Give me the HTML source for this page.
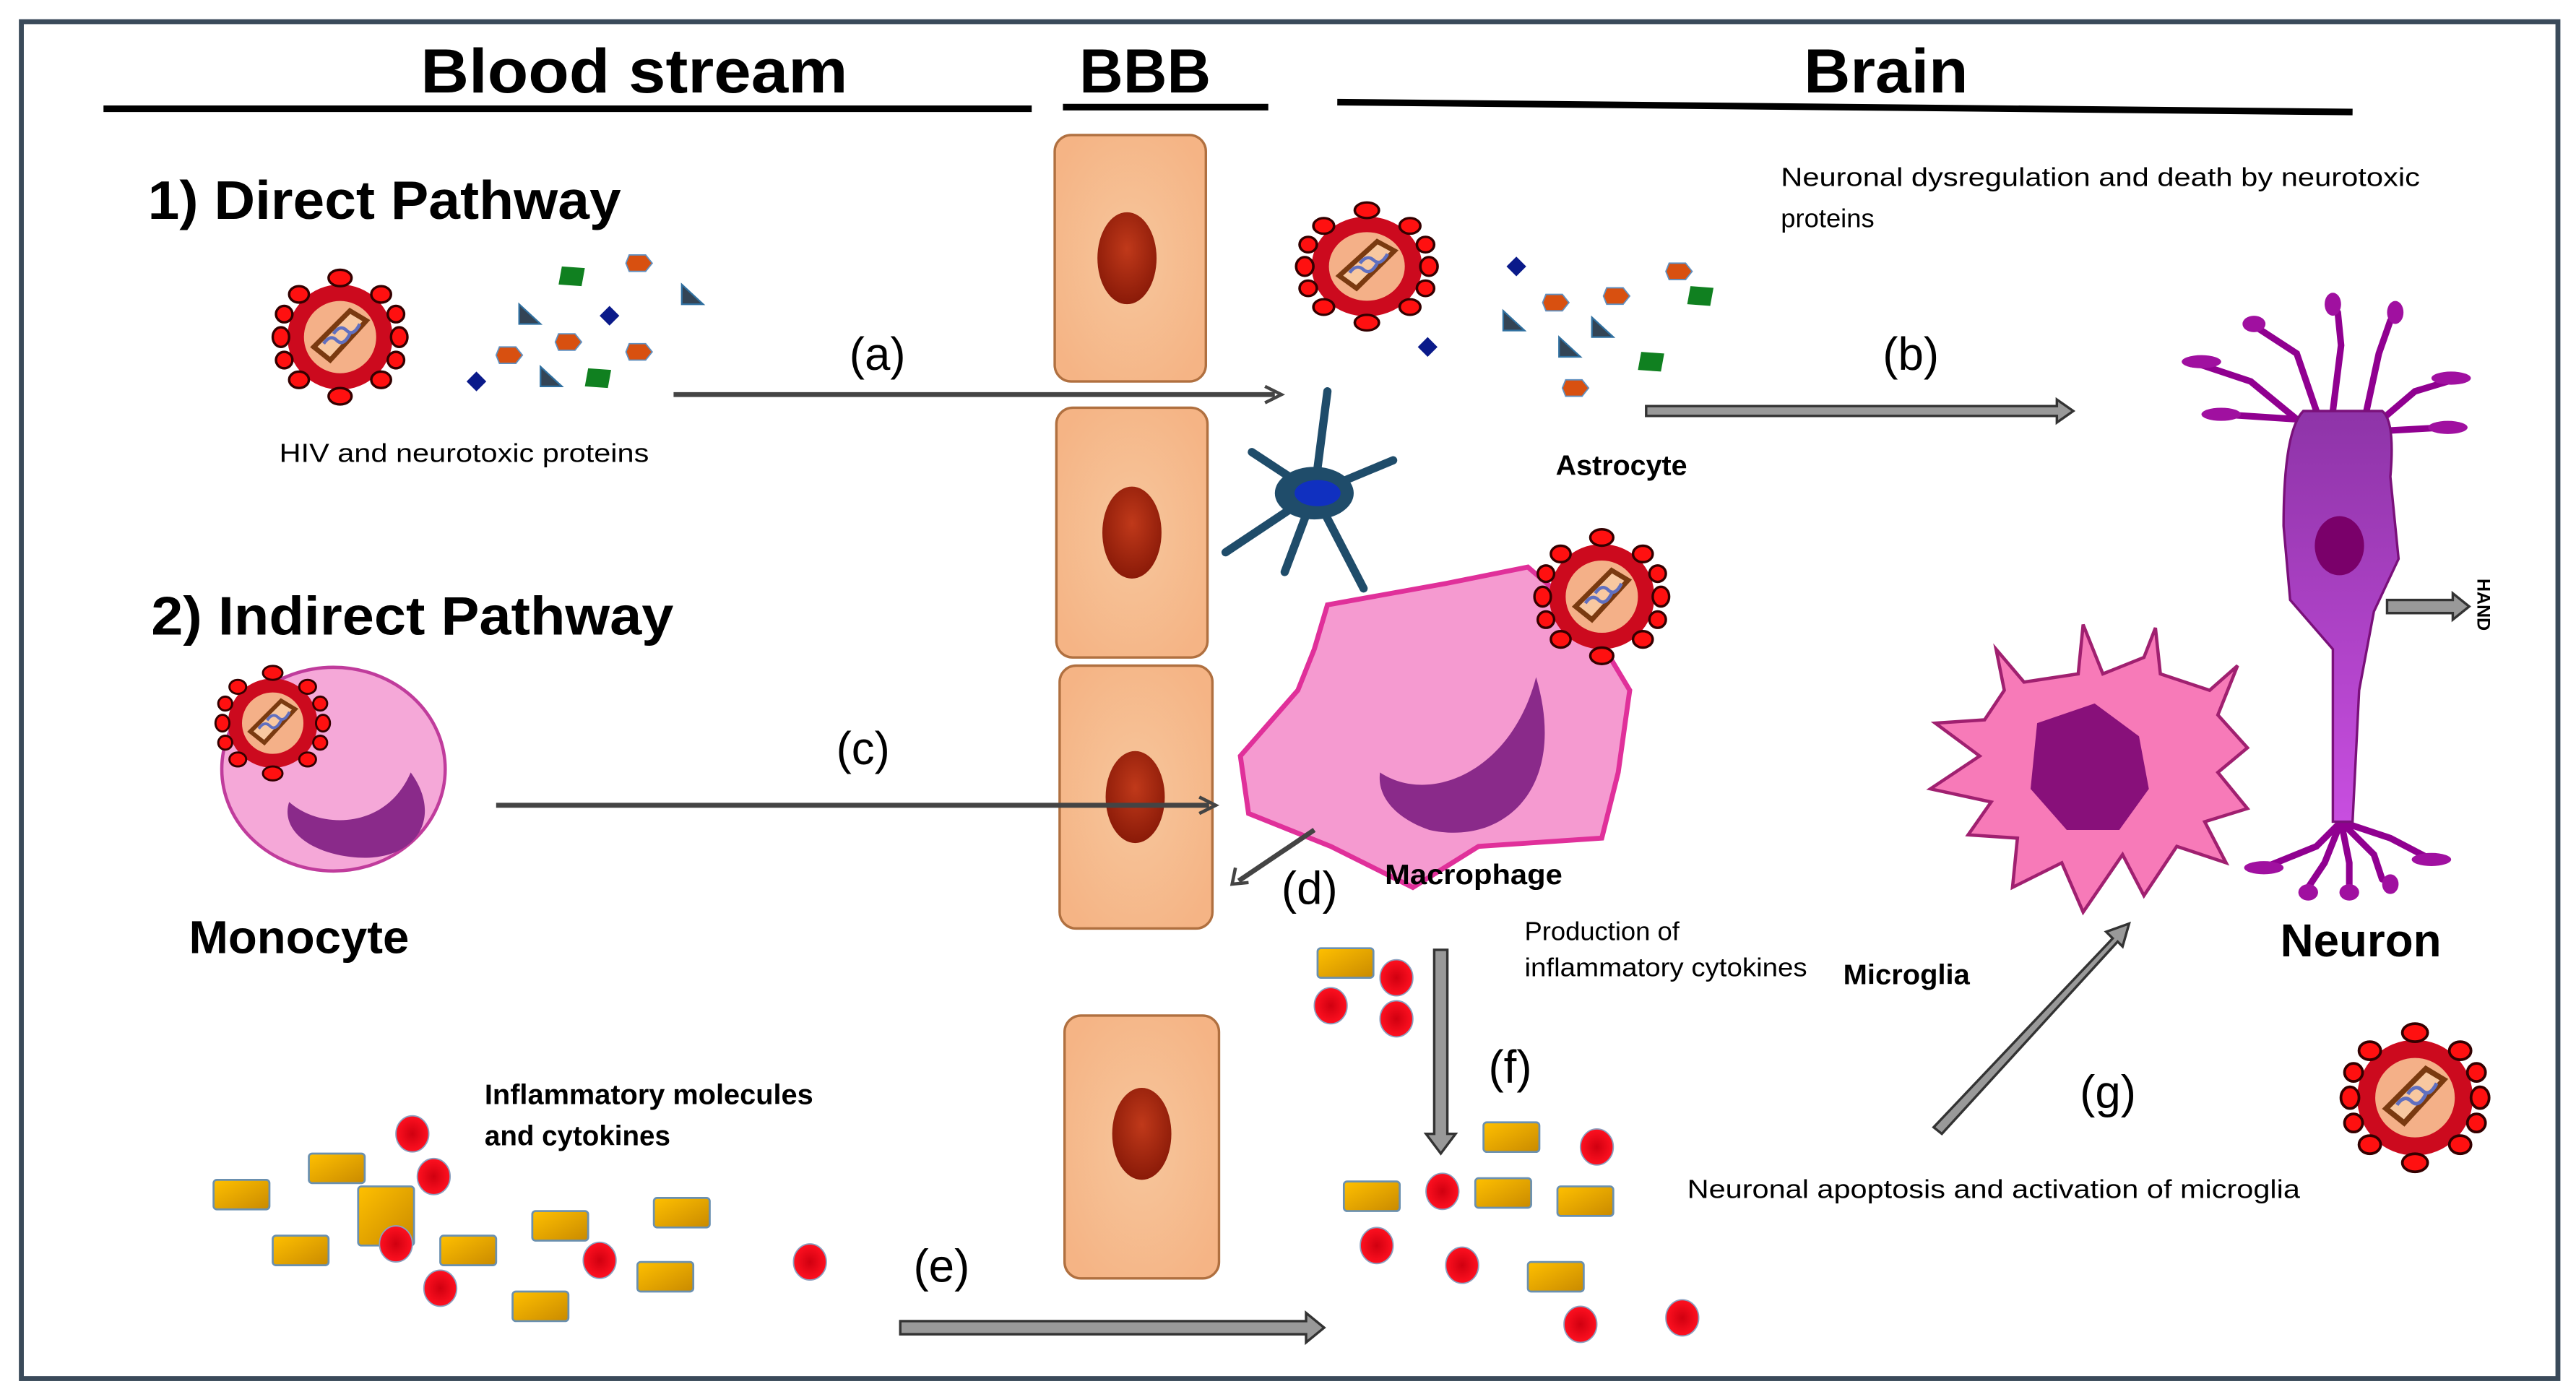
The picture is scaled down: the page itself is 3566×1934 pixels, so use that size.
<!DOCTYPE html>
<html><head><meta charset="utf-8"><style>
html,body{margin:0;padding:0;background:#fff}
svg{display:block}
text{font-family:"Liberation Sans",sans-serif}
</style></head><body>
<svg width="3566" height="1934" viewBox="0 0 1568 850" xmlns="http://www.w3.org/2000/svg">
<defs>
<radialGradient id="cellg" cx="50%" cy="50%" r="60%"><stop offset="0" stop-color="#f6c69c"/><stop offset="1" stop-color="#f5b485"/></radialGradient>
<radialGradient id="nucg" cx="50%" cy="40%" r="60%"><stop offset="0" stop-color="#c0391a"/><stop offset="1" stop-color="#8a1a08"/></radialGradient>
<linearGradient id="yel" x1="0" y1="0" x2="1" y2="1"><stop offset="0" stop-color="#ffc000"/><stop offset="1" stop-color="#c98a00"/></linearGradient>
<radialGradient id="redg"><stop offset="0" stop-color="#d00010"/><stop offset="1" stop-color="#ff1020"/></radialGradient>
<linearGradient id="neug" x1="0" y1="0" x2="0" y2="1"><stop offset="0" stop-color="#8e34a8"/><stop offset="1" stop-color="#c84ee0"/></linearGradient>
<g id="virus">
  <circle r="32" fill="#cc0a1e"/>
  <circle r="22" fill="#f4b088"/>
  <path d="M-16,6 L6,-16 L16,-10 L-6,14 Z" fill="#f8c8a0" stroke="#7a3a10" stroke-width="3"/>
  <path d="M-10,4 q4,-6 8,-2 t8,-4 M-4,-2 q4,-6 8,-2 t8,-4" fill="none" stroke="#6070c0" stroke-width="2"/>
  <g fill="#ff1010" stroke="#300" stroke-width="1.5">
    <ellipse cx="0" cy="-36" rx="7" ry="5"/><ellipse cx="0" cy="36" rx="7" ry="5"/>
    <ellipse cx="-36" cy="0" rx="5" ry="6"/><ellipse cx="36" cy="0" rx="5" ry="6"/>
    <ellipse cx="-25" cy="-26" rx="6" ry="5"/><ellipse cx="25" cy="-26" rx="6" ry="5"/>
    <ellipse cx="-25" cy="26" rx="6" ry="5"/><ellipse cx="25" cy="26" rx="6" ry="5"/>
    <ellipse cx="-34" cy="-14" rx="5" ry="5"/><ellipse cx="34" cy="-14" rx="5" ry="5"/>
    <ellipse cx="-34" cy="14" rx="5" ry="5"/><ellipse cx="34" cy="14" rx="5" ry="5"/>
  </g>
</g>
<rect id="cy" width="34" height="18" rx="2" fill="url(#yel)" stroke="#6a90b0" stroke-width="1.2"/>
<ellipse id="rc" rx="10" ry="11" fill="url(#redg)" stroke="#8aa0c0" stroke-width="0.8"/>
<g id="dia"><path d="M0,-6 L6,0 L0,6 L-6,0Z" fill="#0a1a8a"/></g>
<g id="hex"><path d="M-7,-5 L3,-5 L7,0 L3,5 L-7,5 L-9,0Z" fill="#d85010" stroke="#6090c0" stroke-width="0.8"/></g>
<g id="tri"><path d="M-6,-7 L-6,5 L7,5Z" fill="#345" stroke="#3070a0" stroke-width="1"/></g>
<g id="sq"><path d="M-6,-6 L8,-5 L6,6 L-8,5Z" fill="#108020"/></g>
</defs>

<rect x="13" y="13" width="1544" height="826" fill="#fff" stroke="#3a4a5a" stroke-width="3"/>

<text x="256" y="56" font-size="38" font-weight="bold" textLength="260" lengthAdjust="spacingAndGlyphs">Blood stream</text>
<text x="657" y="56" font-size="38" font-weight="bold" textLength="80" lengthAdjust="spacingAndGlyphs">BBB</text>
<text x="1098" y="56" font-size="38" font-weight="bold" textLength="100" lengthAdjust="spacingAndGlyphs">Brain</text>
<line x1="63" y1="66" x2="628" y2="66" stroke="#000" stroke-width="4"/>
<line x1="647" y1="65" x2="772" y2="65" stroke="#000" stroke-width="4"/>
<line x1="814" y1="62" x2="1432" y2="68" stroke="#000" stroke-width="4"/>

<text x="90" y="133" font-size="33" font-weight="bold" textLength="288" lengthAdjust="spacingAndGlyphs">1) Direct Pathway</text>
<text x="92" y="386" font-size="33" font-weight="bold" textLength="318" lengthAdjust="spacingAndGlyphs">2) Indirect Pathway</text>

<g stroke="#b07040" stroke-width="1.5" fill="url(#cellg)">
<rect x="642" y="82" width="92" height="150" rx="10"/>
<rect x="643" y="248" width="92" height="152" rx="10"/>
<rect x="645" y="405" width="93" height="160" rx="10"/>
<rect x="648" y="618" width="94" height="160" rx="10"/>
</g>
<g fill="url(#nucg)">
<ellipse cx="686" cy="157" rx="18" ry="28"/>
<ellipse cx="689" cy="324" rx="18" ry="28"/>
<ellipse cx="691" cy="485" rx="18" ry="28"/>
<ellipse cx="695" cy="690" rx="18" ry="28"/>
</g>

<use href="#virus" x="207" y="205"/>
<use href="#virus" transform="translate(832,162) scale(1.05,0.95)"/>
<use href="#virus" transform="translate(1470,668) scale(1.1)"/>

<use href="#sq" x="348" y="168"/><use href="#hex" x="390" y="160"/><use href="#tri" x="421" y="180"/>
<use href="#tri" x="322" y="192"/><use href="#dia" x="371" y="192"/><use href="#hex" x="347" y="208"/>
<use href="#hex" x="311" y="216"/><use href="#hex" x="390" y="214"/><use href="#dia" x="290" y="232"/>
<use href="#tri" x="335" y="230"/><use href="#sq" x="364" y="230"/>
<use href="#dia" x="923" y="162"/><use href="#hex" x="1023" y="165"/><use href="#hex" x="948" y="184"/>
<use href="#hex" x="985" y="180"/><use href="#sq" x="1035" y="180"/><use href="#tri" x="921" y="196"/>
<use href="#tri" x="975" y="200"/><use href="#dia" x="869" y="211"/><use href="#tri" x="955" y="212"/>
<use href="#sq" x="1005" y="220"/><use href="#hex" x="960" y="236"/>

<!-- astrocyte -->
<g stroke="#1f4c6a" stroke-width="5" stroke-linecap="round" fill="none">
<path d="M800,300 L808,238"/><path d="M800,300 L848,280"/><path d="M800,300 L830,358"/>
<path d="M800,300 L782,348"/><path d="M800,300 L746,336"/><path d="M800,300 L762,275"/>
</g>
<ellipse cx="800" cy="300" rx="24" ry="16" fill="#1f4c6a"/>
<ellipse cx="802" cy="300" rx="14" ry="8" fill="#1030c0"/>

<!-- monocyte -->
<ellipse cx="203" cy="468" rx="68" ry="62" fill="#f5a8d8" stroke="#c03c9c" stroke-width="2"/>
<path d="M250,470 C272,500 250,530 205,520 C180,514 172,500 176,488 C195,505 235,505 250,470Z" fill="#8a2a8a"/>
<use href="#virus" transform="translate(166,440) scale(0.85)"/>

<!-- macrophage -->
<path d="M808,368 L880,355 L930,345 L965,375 L992,420 L985,470 L975,510 L900,515 L860,540 L810,515 L760,495 L755,460 L790,420 L800,395Z" fill="#f59ad0" stroke="#e0309a" stroke-width="3"/>
<path d="M935,412 C955,480 915,515 870,505 C850,498 838,485 840,470 C870,490 920,470 935,412Z" fill="#8a2a8a"/>
<use href="#virus" x="975" y="363"/>

<!-- microglia -->
<g fill="#f77ab8" stroke="#a02070" stroke-width="2">
<path d="M1220,420 L1215,395 L1232,415 L1265,410 L1268,380 L1280,410 L1305,400 L1312,382 L1315,410 L1345,420 L1362,405 L1350,435 L1368,455 L1350,470 L1368,492 L1342,500 L1355,525 L1325,515 L1305,545 L1292,520 L1268,555 L1255,525 L1225,540 L1228,510 L1198,508 L1212,488 L1175,480 L1205,460 L1178,440 L1208,438Z"/>
</g>
<path d="M1240,440 L1275,428 L1302,448 L1308,480 L1290,505 L1258,505 L1236,480Z" fill="#88107a"/>

<!-- neuron -->
<g stroke="#900090" stroke-width="4" fill="none" stroke-linecap="round">
<path d="M1398,255 L1370,232 L1340,222"/><path d="M1398,255 L1352,252"/>
<path d="M1410,250 L1398,215 L1375,200"/><path d="M1420,250 L1425,210 L1423,190"/>
<path d="M1440,252 L1448,215 L1455,195"/><path d="M1450,255 L1470,238 L1490,232"/><path d="M1452,262 L1488,260"/>
<path d="M1425,500 L1410,515 L1378,528"/><path d="M1425,500 L1415,525 L1405,540"/><path d="M1425,500 L1430,525 L1430,540"/>
<path d="M1425,500 L1445,520 L1450,535"/><path d="M1425,500 L1455,510 L1478,522"/>
</g>
<g fill="#a010a0">
<ellipse cx="1340" cy="220" rx="12" ry="4"/><ellipse cx="1352" cy="252" rx="12" ry="4"/>
<ellipse cx="1372" cy="197" rx="7" ry="5"/><ellipse cx="1420" cy="185" rx="5" ry="7"/><ellipse cx="1458" cy="190" rx="5" ry="7"/>
<ellipse cx="1492" cy="230" rx="12" ry="4"/><ellipse cx="1490" cy="260" rx="12" ry="4"/>
<ellipse cx="1378" cy="528" rx="12" ry="4"/><ellipse cx="1405" cy="543" rx="6" ry="5"/><ellipse cx="1430" cy="543" rx="6" ry="5"/><ellipse cx="1455" cy="538" rx="5" ry="6"/><ellipse cx="1480" cy="523" rx="12" ry="4"/>
</g>
<path d="M1402,250 L1450,250 Q1458,256 1455,290 L1460,340 L1445,372 L1436,420 L1432,500 L1420,500 L1420,395 L1394,365 L1390,320 Q1390,262 1402,250 Z" fill="url(#neug)" stroke="#7a107a" stroke-width="1.5"/>
<ellipse cx="1424" cy="332" rx="15" ry="18" fill="#7a006a"/>

<!-- cytokines -->
<use href="#cy" x="130" y="718"/><use href="#cy" x="188" y="702"/>
<rect x="218" y="722" width="34" height="36" rx="2" fill="url(#yel)" stroke="#6a90b0" stroke-width="1.2"/>
<use href="#cy" x="166" y="752"/><use href="#cy" x="268" y="752"/><use href="#cy" x="324" y="737"/>
<use href="#cy" x="398" y="729"/><use href="#cy" x="388" y="768"/><use href="#cy" x="312" y="786"/>
<use href="#rc" x="251" y="690"/><use href="#rc" x="264" y="716"/><use href="#rc" x="241" y="757"/>
<use href="#rc" x="268" y="784"/><use href="#rc" x="365" y="767"/><use href="#rc" x="493" y="768"/>
<use href="#cy" x="802" y="577"/><use href="#cy" x="903" y="683"/><use href="#cy" x="818" y="719"/>
<use href="#cy" x="898" y="717"/><use href="#cy" x="948" y="722"/><use href="#cy" x="930" y="768"/>
<use href="#rc" x="850" y="595"/><use href="#rc" x="810" y="612"/><use href="#rc" x="850" y="620"/>
<use href="#rc" x="972" y="698"/><use href="#rc" x="878" y="725"/><use href="#rc" x="838" y="758"/>
<use href="#rc" x="890" y="770"/><use href="#rc" x="962" y="806"/><use href="#rc" x="1024" y="802"/>

<!-- arrows -->
<g stroke="#444" fill="none">
<line x1="410" y1="240" x2="776" y2="240" stroke-width="3"/>
<path d="M770,235 L780,240 L770,245" stroke-width="2"/>
<line x1="302" y1="490" x2="736" y2="490" stroke-width="3"/>
<path d="M730,485 L740,490 L730,495" stroke-width="2"/>
<line x1="800" y1="505" x2="754" y2="536" stroke-width="3"/>
<path d="M752,528 L750,538 L760,537" stroke-width="2"/>
</g>
<g fill="#999" stroke="#333" stroke-width="1.5">
<path d="M1002,247 L1252,247 L1252,243 L1262,250 L1252,257 L1252,253 L1002,253Z"/>
<path d="M548,804 L795,804 L795,799 L806,808 L795,817 L795,812 L548,812Z"/>
<path d="M873,578 L881,578 L881,690 L886,690 L877,702 L868,690 L873,690Z"/>
<path d="M1453,365 L1493,365 L1493,361 L1503,369 L1493,377 L1493,373 L1453,373Z"/>
<path d="M1177,686 L1286,571 L1282,567 L1296,562 L1292,576 L1289,573 L1182,690Z"/>
</g>

<g font-size="28">
<text x="517" y="225">(a)</text>
<text x="1146" y="225">(b)</text>
<text x="509" y="465">(c)</text>
<text x="780" y="550">(d)</text>
<text x="556" y="780">(e)</text>
<text x="906" y="659">(f)</text>
<text x="1266" y="674">(g)</text>
</g>
<text x="115" y="580" font-size="28" font-weight="bold" textLength="134" lengthAdjust="spacingAndGlyphs">Monocyte</text>
<text x="1388" y="582" font-size="28" font-weight="bold" textLength="98" lengthAdjust="spacingAndGlyphs">Neuron</text>
<g font-size="16">
<text x="170" y="281" textLength="225" lengthAdjust="spacingAndGlyphs">HIV and neurotoxic proteins</text>
<text x="1084" y="113" textLength="389" lengthAdjust="spacingAndGlyphs">Neuronal dysregulation and death by neurotoxic</text>
<text x="1084" y="138">proteins</text>
<text x="928" y="572">Production of</text>
<text x="928" y="594" textLength="172" lengthAdjust="spacingAndGlyphs">inflammatory cytokines</text>
<text x="1027" y="729" textLength="373" lengthAdjust="spacingAndGlyphs">Neuronal apoptosis and activation of microglia</text>
</g>
<g font-size="17" font-weight="bold">
<text x="947" y="289" textLength="80" lengthAdjust="spacingAndGlyphs">Astrocyte</text>
<text x="843" y="538" textLength="108" lengthAdjust="spacingAndGlyphs">Macrophage</text>
<text x="1122" y="599" textLength="77" lengthAdjust="spacingAndGlyphs">Microglia</text>
<text x="295" y="672" textLength="200" lengthAdjust="spacingAndGlyphs">Inflammatory molecules</text>
<text x="295" y="697" textLength="113" lengthAdjust="spacingAndGlyphs">and cytokines</text>
</g>
<text transform="translate(1508,352) rotate(90)" font-size="11" font-weight="bold">HAND</text>
</svg>
</body></html>
